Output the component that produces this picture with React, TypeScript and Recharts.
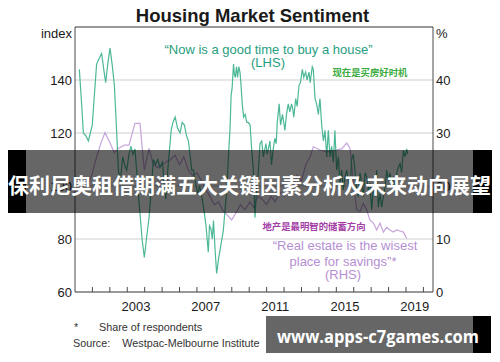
import React from "react";
import { LineChart, Line, XAxis, YAxis, CartesianGrid, ReferenceLine } from "recharts";

const greenYears = [
  2000.25, 2000.38, 2000.48, 2000.62, 2000.77, 2000.88, 2000.99, 2001.12, 2001.24, 2001.38,
  2001.53, 2001.65, 2001.76, 2001.88, 2002.01, 2002.13, 2002.26, 2002.38, 2002.49, 2002.6,
  2002.74, 2002.85, 2002.97, 2003.1, 2003.21, 2003.33, 2003.44, 2003.56, 2003.7, 2003.85,
  2003.98, 2004.1, 2004.25, 2004.38, 2004.5, 2004.62, 2004.75, 2004.88, 2005.02, 2005.12,
  2005.21, 2005.35, 2005.52, 2005.62, 2005.75, 2005.88, 2006.03, 2006.15, 2006.28, 2006.4,
  2006.51, 2006.6, 2006.7, 2006.8, 2006.92, 2007.05, 2007.15, 2007.28, 2007.4, 2007.52,
  2007.65, 2007.72, 2007.8, 2007.88, 2007.95, 2008.05, 2008.13, 2008.25, 2008.38, 2008.51,
  2008.6, 2008.71, 2008.8, 2008.9, 2008.96, 2009.02, 2009.1, 2009.15, 2009.2, 2009.27,
  2009.33, 2009.4, 2009.47, 2009.52, 2009.6, 2009.68, 2009.77, 2009.86, 2009.95, 2010.05,
  2010.14, 2010.24, 2010.33, 2010.43, 2010.52, 2010.62, 2010.72, 2010.81, 2010.9, 2010.96,
  2011.03, 2011.1, 2011.19, 2011.28, 2011.38, 2011.47, 2011.55, 2011.61, 2011.72, 2011.8,
  2011.91, 2011.98, 2012.05, 2012.14, 2012.24, 2012.33, 2012.43, 2012.5, 2012.56, 2012.67,
  2012.75, 2012.86, 2012.94, 2013.05, 2013.13, 2013.24, 2013.32, 2013.43, 2013.5, 2013.62,
  2013.68, 2013.78, 2013.87, 2013.97, 2014.06, 2014.16, 2014.26, 2014.35, 2014.45, 2014.54,
  2014.64, 2014.73, 2014.83, 2014.92, 2015.02, 2015.12, 2015.21, 2015.31, 2015.4, 2015.5,
  2015.6, 2015.69, 2015.79, 2015.88, 2015.98, 2016.07, 2016.17, 2016.26, 2016.36, 2016.46,
  2016.55, 2016.65, 2016.74, 2016.84, 2016.93, 2017.03, 2017.13, 2017.22, 2017.32, 2017.41,
  2017.51, 2017.6, 2017.7, 2017.8, 2017.89, 2017.99, 2018.08, 2018.18, 2018.27, 2018.37,
  2018.47, 2018.56, 2018.66, 2018.75, 2018.85, 2018.94, 2019.04, 2019.1,
];
const greenIndex = [
  144, 131, 120, 119, 117, 120, 123, 135, 146, 148,
  150, 144, 139, 146, 152, 146, 138, 122, 106, 102,
  111, 108, 106, 112, 115, 112, 114, 104, 92, 80,
  73, 80, 88, 99, 110, 108, 110, 107, 109, 101,
  95, 108, 121, 124, 126, 122, 120, 124, 123, 119,
  117, 112, 106, 106, 101, 97, 100, 96, 91, 85,
  75, 85, 84, 80, 87, 75, 67, 73, 78, 83,
  90, 98, 110, 122, 134, 137, 146, 142, 141, 145,
  141, 145, 143, 139, 131, 126, 127, 124, 124, 123,
  114, 106, 88, 100, 105, 116, 117, 111, 114, 116,
  112, 114, 117, 108, 114, 118, 116, 124, 131, 123,
  127, 124, 121, 127, 131, 128, 131, 129, 126, 133,
  130, 138, 139, 144, 141, 143, 140, 143, 139, 145,
  144, 133, 131, 127, 133, 123, 117, 121, 111, 121,
  111, 115, 109, 121, 106, 111, 101, 106, 98.5, 103.5,
  106, 102, 98.5, 110, 112, 106, 98.5, 96, 105, 101,
  96, 105, 103.5, 98.5, 101, 91, 99.5, 96, 106, 92,
  97, 92, 96, 99.5, 106, 102, 105, 101, 103.5, 98.5,
  105, 107, 108.5, 105, 113.5, 111, 114, 112,
];

const purpleYears = [
  2000.75, 2001.0, 2001.24, 2001.48, 2001.72, 2002.01, 2002.26, 2002.49, 2002.83, 2003.1,
  2003.44, 2003.73, 2003.98, 2004.25, 2004.5, 2004.75, 2005.01, 2005.26, 2005.5, 2005.74,
  2006.0, 2006.25, 2006.5, 2006.75, 2007.0, 2007.25, 2007.5, 2007.75, 2008.0, 2008.25,
  2008.51, 2008.75, 2008.99, 2009.25, 2009.5, 2009.75, 2010.05, 2010.25, 2010.5, 2010.75,
  2011.0, 2011.25, 2011.5, 2011.75, 2012.0, 2012.25, 2012.5, 2012.75, 2013.0, 2013.25,
  2013.5, 2013.68, 2014.06, 2014.45, 2015.02, 2015.3, 2015.6, 2015.79, 2016.0, 2016.17,
  2016.36, 2016.55, 2016.74, 2016.93, 2017.13, 2017.32, 2017.51, 2017.7, 2017.89, 2018.08,
  2018.27, 2018.47, 2018.66, 2018.85, 2019.04,
];
const purpleShare = [
  20, 22.5, 25.5, 28, 30.1, 28.1, 26.3, 27.1, 27.7, 27.7,
  31.8, 31.8, 23, 27.1, 24, 23.5, 24, 24.6, 25, 25.8,
  24, 25.5, 23, 22, 22.5, 21, 19.5, 18, 16.5, 17,
  15.2, 14.5, 13.6, 15, 16.5, 15.5, 17, 16, 18, 17.5,
  16.5, 18, 17, 19, 18, 20, 19.5, 22, 21, 24,
  25.5, 27.4, 26.8, 26.5, 26.8, 27, 28.1, 27.1, 20, 15.5,
  15.2, 16.7, 15.5, 13.6, 13, 11.7, 13, 11.3, 12.2, 11.7,
  11.3, 11.7, 11.5, 11.3, 10.1,
];

const yearTicks = [2001, 2002, 2003, 2004, 2005, 2006, 2007, 2008, 2009, 2010, 2011, 2012, 2013, 2014, 2015, 2016, 2017, 2018, 2019, 2020];
const yearLabels = [2003, 2007, 2011, 2015, 2019];
const leftTicks = [60, 80, 100, 120, 140];
const rightTicks = [0, 10, 20, 30, 40];

const greenData = greenYears.map((t, i) => ({ t, v: greenIndex[i] }));
const purpleData = purpleYears.map((t, i) => ({ t, v: purpleShare[i] }));

const X_MIN = 2000;
const X_MAX = 2020.55;
const PLOT_W = 358;
const HALF_YEAR = PLOT_W / (X_MAX - X_MIN) / 2;

const FONT = "'Liberation Sans', Arial, sans-serif";
const CJK = "'Noto Sans CJK SC', sans-serif";
const AXIS = "#4a4a4a";
const GREEN_LINE = "#4db898";
const GREEN_TEXT = "#1f9e7e";
const PURPLE_LINE = "#c7a5dd";
const PURPLE_TEXT = "#b58fd3";

function YearTick(props: any) {
  const { x, y, payload } = props;
  const v = payload.value;
  return (
    <g>
      <line x1={x} x2={x} y1={y - 5} y2={y} stroke={AXIS} strokeWidth={1} />
      {yearLabels.includes(v) ? (
        <text x={x + HALF_YEAR} y={y + 18.5} textAnchor="middle" fontSize={13} fill="#1a1a1a" fontFamily={FONT}>
          {v}
        </text>
      ) : null}
    </g>
  );
}

export default function App() {
  return (
    <div style={{ position: "absolute", left: 0, top: 0, width: 500, height: 362, background: "#fff", overflow: "hidden" }}>
      <LineChart width={500} height={362} margin={{ top: 27, right: 27, bottom: 40, left: 35 }}>
        <CartesianGrid yAxisId="left" vertical={false} stroke="#cfcfcf" strokeWidth={1.2} />
        <XAxis
          dataKey="t"
          type="number"
          domain={[X_MIN, X_MAX]}
          ticks={yearTicks}
          interval={0}
          tick={<YearTick />}
          tickLine={false}
          tickSize={0}
          tickMargin={0}
          height={30}
          allowDataOverflow
          stroke={AXIS}
        />
        <YAxis
          yAxisId="left"
          domain={[60, 160]}
          ticks={leftTicks}
          interval={0}
          width={40}
          tickLine={false}
          tickSize={0}
          tickMargin={3}
          stroke={AXIS}
          tick={{ fontSize: 13, fill: "#1a1a1a", fontFamily: FONT }}
        />
        <YAxis
          yAxisId="right"
          orientation="right"
          domain={[0, 50]}
          ticks={rightTicks}
          interval={0}
          width={40}
          tickLine={false}
          tickSize={0}
          tickMargin={3}
          stroke={AXIS}
          tick={{ fontSize: 13, fill: "#1a1a1a", fontFamily: FONT, textAnchor: "start" }}
        />
        <ReferenceLine yAxisId="left" y={160} stroke={AXIS} strokeWidth={1} />
        <Line
          yAxisId="right"
          data={purpleData}
          dataKey="v"
          type="linear"
          stroke={PURPLE_LINE}
          strokeWidth={1.2}
          dot={false}
          isAnimationActive={false}
        />
        <Line
          yAxisId="left"
          data={greenData}
          dataKey="v"
          type="linear"
          stroke={GREEN_LINE}
          strokeWidth={1.2}
          dot={false}
          isAnimationActive={false}
        />
      </LineChart>

      <svg width={500} height={362} style={{ position: "absolute", left: 0, top: 0, pointerEvents: "none" }}>
        <text x={252.5} y={21.5} textAnchor="middle" fontSize={18.5} fontWeight="bold" fill="#1a1a1a" fontFamily={FONT}>
          Housing Market Sentiment
        </text>
        <text x={72} y={38.3} textAnchor="end" fontSize={13} fill="#1a1a1a" fontFamily={FONT}>index</text>
        <text x={436} y={38.3} textAnchor="start" fontSize={13} fill="#1a1a1a" fontFamily={FONT}>%</text>

        <text x={268.5} y={54.3} textAnchor="middle" fontSize={13} fill={GREEN_TEXT} fontFamily={FONT}>
          “Now is a good time to buy a house”
        </text>
        <text x={268} y={66.5} textAnchor="middle" fontSize={13} fill={GREEN_TEXT} fontFamily={FONT}>(LHS)</text>
        <text x={370} y={76.3} textAnchor="middle" fontSize={9.4} fontWeight="bold" fill="#3aab3f" fontFamily={CJK}>
          现在是买房好时机
        </text>

        <text x={314} y={230.2} textAnchor="middle" fontSize={9.4} fontWeight="bold" fill="#a33ea6" fontFamily={CJK}>
          地产是最明智的储蓄方向
        </text>
        <text x={345} y={250.3} textAnchor="middle" fontSize={13} fill={PURPLE_TEXT} fontFamily={FONT}>
          “Real estate is the wisest
        </text>
        <text x={343} y={265.5} textAnchor="middle" fontSize={13} fill={PURPLE_TEXT} fontFamily={FONT}>
          place for savings”*
        </text>
        <text x={343} y={278.5} textAnchor="middle" fontSize={13} fill={PURPLE_TEXT} fontFamily={FONT}>(RHS)</text>

        <text x={76} y={331} textAnchor="middle" fontSize={10.8} fill="#333" fontFamily={FONT}>*</text>
        <text x={99} y={330.5} fontSize={10.8} fill="#333" fontFamily={FONT}>Share of respondents</text>
        <text x={73} y={347} fontSize={10.8} fill="#333" fontFamily={FONT}>Source:</text>
        <text x={122.3} y={347} fontSize={10.8} fill="#333" fontFamily={FONT}>Westpac-Melbourne Institute</text>
      </svg>

      <div style={{ position: "absolute", left: 8, top: 150, width: 18, height: 63, background: "#000" }} />
      <div style={{ position: "absolute", left: 26, top: 150, width: 447, height: 63, background: "rgba(0,0,0,0.6)" }} />
      <div style={{ position: "absolute", left: 473, top: 150, width: 19, height: 63, background: "#000" }} />
      <svg width={500} height={362} style={{ position: "absolute", left: 0, top: 0, pointerEvents: "none" }}>
        <text
          x={249.5}
          y={192.5}
          textAnchor="middle"
          fontSize={21}
          fontWeight="bold"
          fill="#fff"
          fontFamily={CJK}
          textLength={483}
          lengthAdjust="spacingAndGlyphs"
        >
          保利尼奥租借期满五大关键因素分析及未来动向展望
        </text>
      </svg>

      <div style={{ position: "absolute", left: 266, top: 316, width: 207, height: 37, background: "rgba(0,0,0,0.6)" }} />
      <div style={{ position: "absolute", left: 473, top: 316, width: 18, height: 37, background: "#000" }} />
      <svg width={500} height={362} style={{ position: "absolute", left: 0, top: 0, pointerEvents: "none" }}>
        <text
          x={277}
          y={342.5}
          textAnchor="start"
          fontSize={18}
          fontWeight="bold"
          fill="#fff"
          fontFamily="'Open Sans', 'DejaVu Sans', sans-serif"
          textLength={202}
          lengthAdjust="spacingAndGlyphs"
        >
          www.apps-c7games.com
        </text>
      </svg>
    </div>
  );
}
